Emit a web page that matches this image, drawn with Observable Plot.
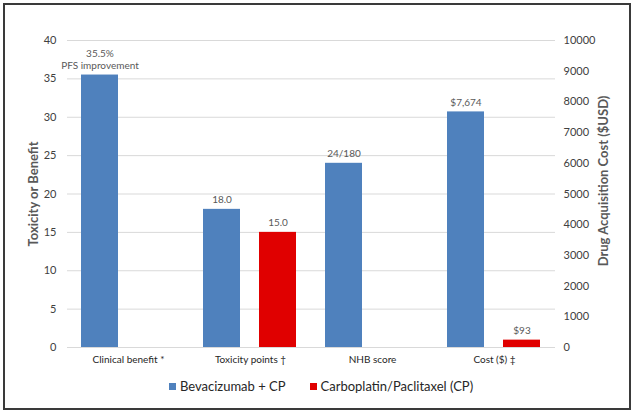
<!DOCTYPE html>
<html>
<head>
<meta charset="utf-8">
<script src="https://cdn.jsdelivr.net/npm/d3@7"></script>
<script src="https://cdn.jsdelivr.net/npm/@observablehq/plot@0.6"></script>
<style>
  body { margin: 0; background: #fff; font-family: Lato, "Open Sans", sans-serif; }
  #wrap { position: relative; width: 635px; height: 414px; }
  #chart { position: absolute; left: 0; top: 0; }
  #border { position: absolute; left: 3px; top: 3px; width: 628px; height: 407px; box-sizing: border-box; border: 2px solid #3a3a3a; pointer-events: none; }
  #legend { position: absolute; left: 0; top: 378px; width: 642px; display: flex; justify-content: center; gap: 24px; font-size: 13px; color: #262626; }
  #legend span.item { display: inline-flex; align-items: center; }
  #legend span.sw { display: inline-block; width: 7px; height: 7px; margin-right: 4px; }
</style>
</head>
<body>
<div id="wrap">
  <div id="chart"></div>
  <div id="legend"></div>
  <div id="border"></div>
</div>
<script>
const categories = ["Clinical benefit *", "Toxicity points †", "NHB score", "Cost ($) ‡"];
const series = ["Bevacizumab + CP", "Carboplatin/Paclitaxel (CP)"];
const colors = ["#4f81bd", "#e00000"];
// Values on the left axis (Toxicity or Benefit); cost values in USD on the right axis
const bevValues = [35.5, 18.0, 24, 7674];
const cpValues = [null, 15.0, null, 240];
const bevLabels = ["35.5%\nPFS improvement", "18.0", "24/180", "$7,674"];
const cpLabels = [null, "15.0", null, "$93"];
const leftTicks = [0, 5, 10, 15, 20, 25, 30, 35, 40];
const rightTicks = [0, 1000, 2000, 3000, 4000, 5000, 6000, 7000, 8000, 9000, 10000];
const rightMax = 10000;
const leftMax = 40;
const costIndex = 3;

const ratio = rightMax / leftMax;
const rows = [];
categories.forEach((c, i) => {
  [[bevValues, bevLabels, 0], [cpValues, cpLabels, 1]].forEach(([vals, labs, s]) => {
    const v = vals[i];
    if (v == null) return;
    rows.push({category: c, series: series[s], value: i === costIndex ? v / ratio : v, label: labs[i]});
  });
});

const chart = Plot.plot({
  width: 635,
  height: 370,
  marginLeft: 66,
  marginRight: 80,
  marginTop: 40,
  marginBottom: 23,
  style: {fontFamily: "Lato, 'Open Sans', sans-serif", background: "transparent"},
  fx: {domain: categories, padding: 0, label: null},
  x: {domain: series, paddingInner: 0.333, paddingOuter: 0.237, axis: null},
  y: {domain: [0, leftMax], axis: null},
  color: {domain: series, range: colors},
  marks: [
    Plot.gridY(leftTicks, {stroke: "#d9d9d9", strokeOpacity: 1, strokeWidth: 1}),
    Plot.barY(rows, {fx: "category", x: "series", y: "value", fill: "series"}),
    Plot.text(rows, {fx: "category", x: "series", y: "value", text: "label", lineAnchor: "bottom", lineHeight: 1.25, dy: -6, fill: "#595959", fontSize: 10}),
    Plot.axisY(leftTicks, {anchor: "left", tickSize: 0, tickPadding: 11, label: null, fontSize: 11, fill: "#404040"}),
    Plot.axisY(rightTicks.map(v => v / ratio), {anchor: "right", tickSize: 0, tickPadding: 8, label: null, fontSize: 11, fill: "#404040", tickFormat: d => String(Math.round(d * ratio))}),
    Plot.axisFx({anchor: "bottom", tickSize: 0, tickPadding: 8, label: null, fontSize: 10, fill: "#262626"}),
    Plot.text(["Toxicity or Benefit"], {fx: [categories[0]], frameAnchor: "left", textAnchor: "middle", dx: -34, rotate: -90, fontSize: 13, fontWeight: "bold", fill: "#595959"}),
    Plot.text(["Drug Acquisition Cost ($USD)"], {fx: [categories[3]], frameAnchor: "right", textAnchor: "middle", dx: 48, dy: -13, rotate: -90, fontSize: 13, fontWeight: "bold", fill: "#595959"})
  ]
});
document.getElementById("chart").appendChild(chart);

const legend = document.getElementById("legend");
series.forEach((s, i) => {
  const item = document.createElement("span");
  item.className = "item";
  const sw = document.createElement("span");
  sw.className = "sw";
  sw.style.background = colors[i];
  item.appendChild(sw);
  item.appendChild(document.createTextNode(s));
  legend.appendChild(item);
});
</script>
</body>
</html>
